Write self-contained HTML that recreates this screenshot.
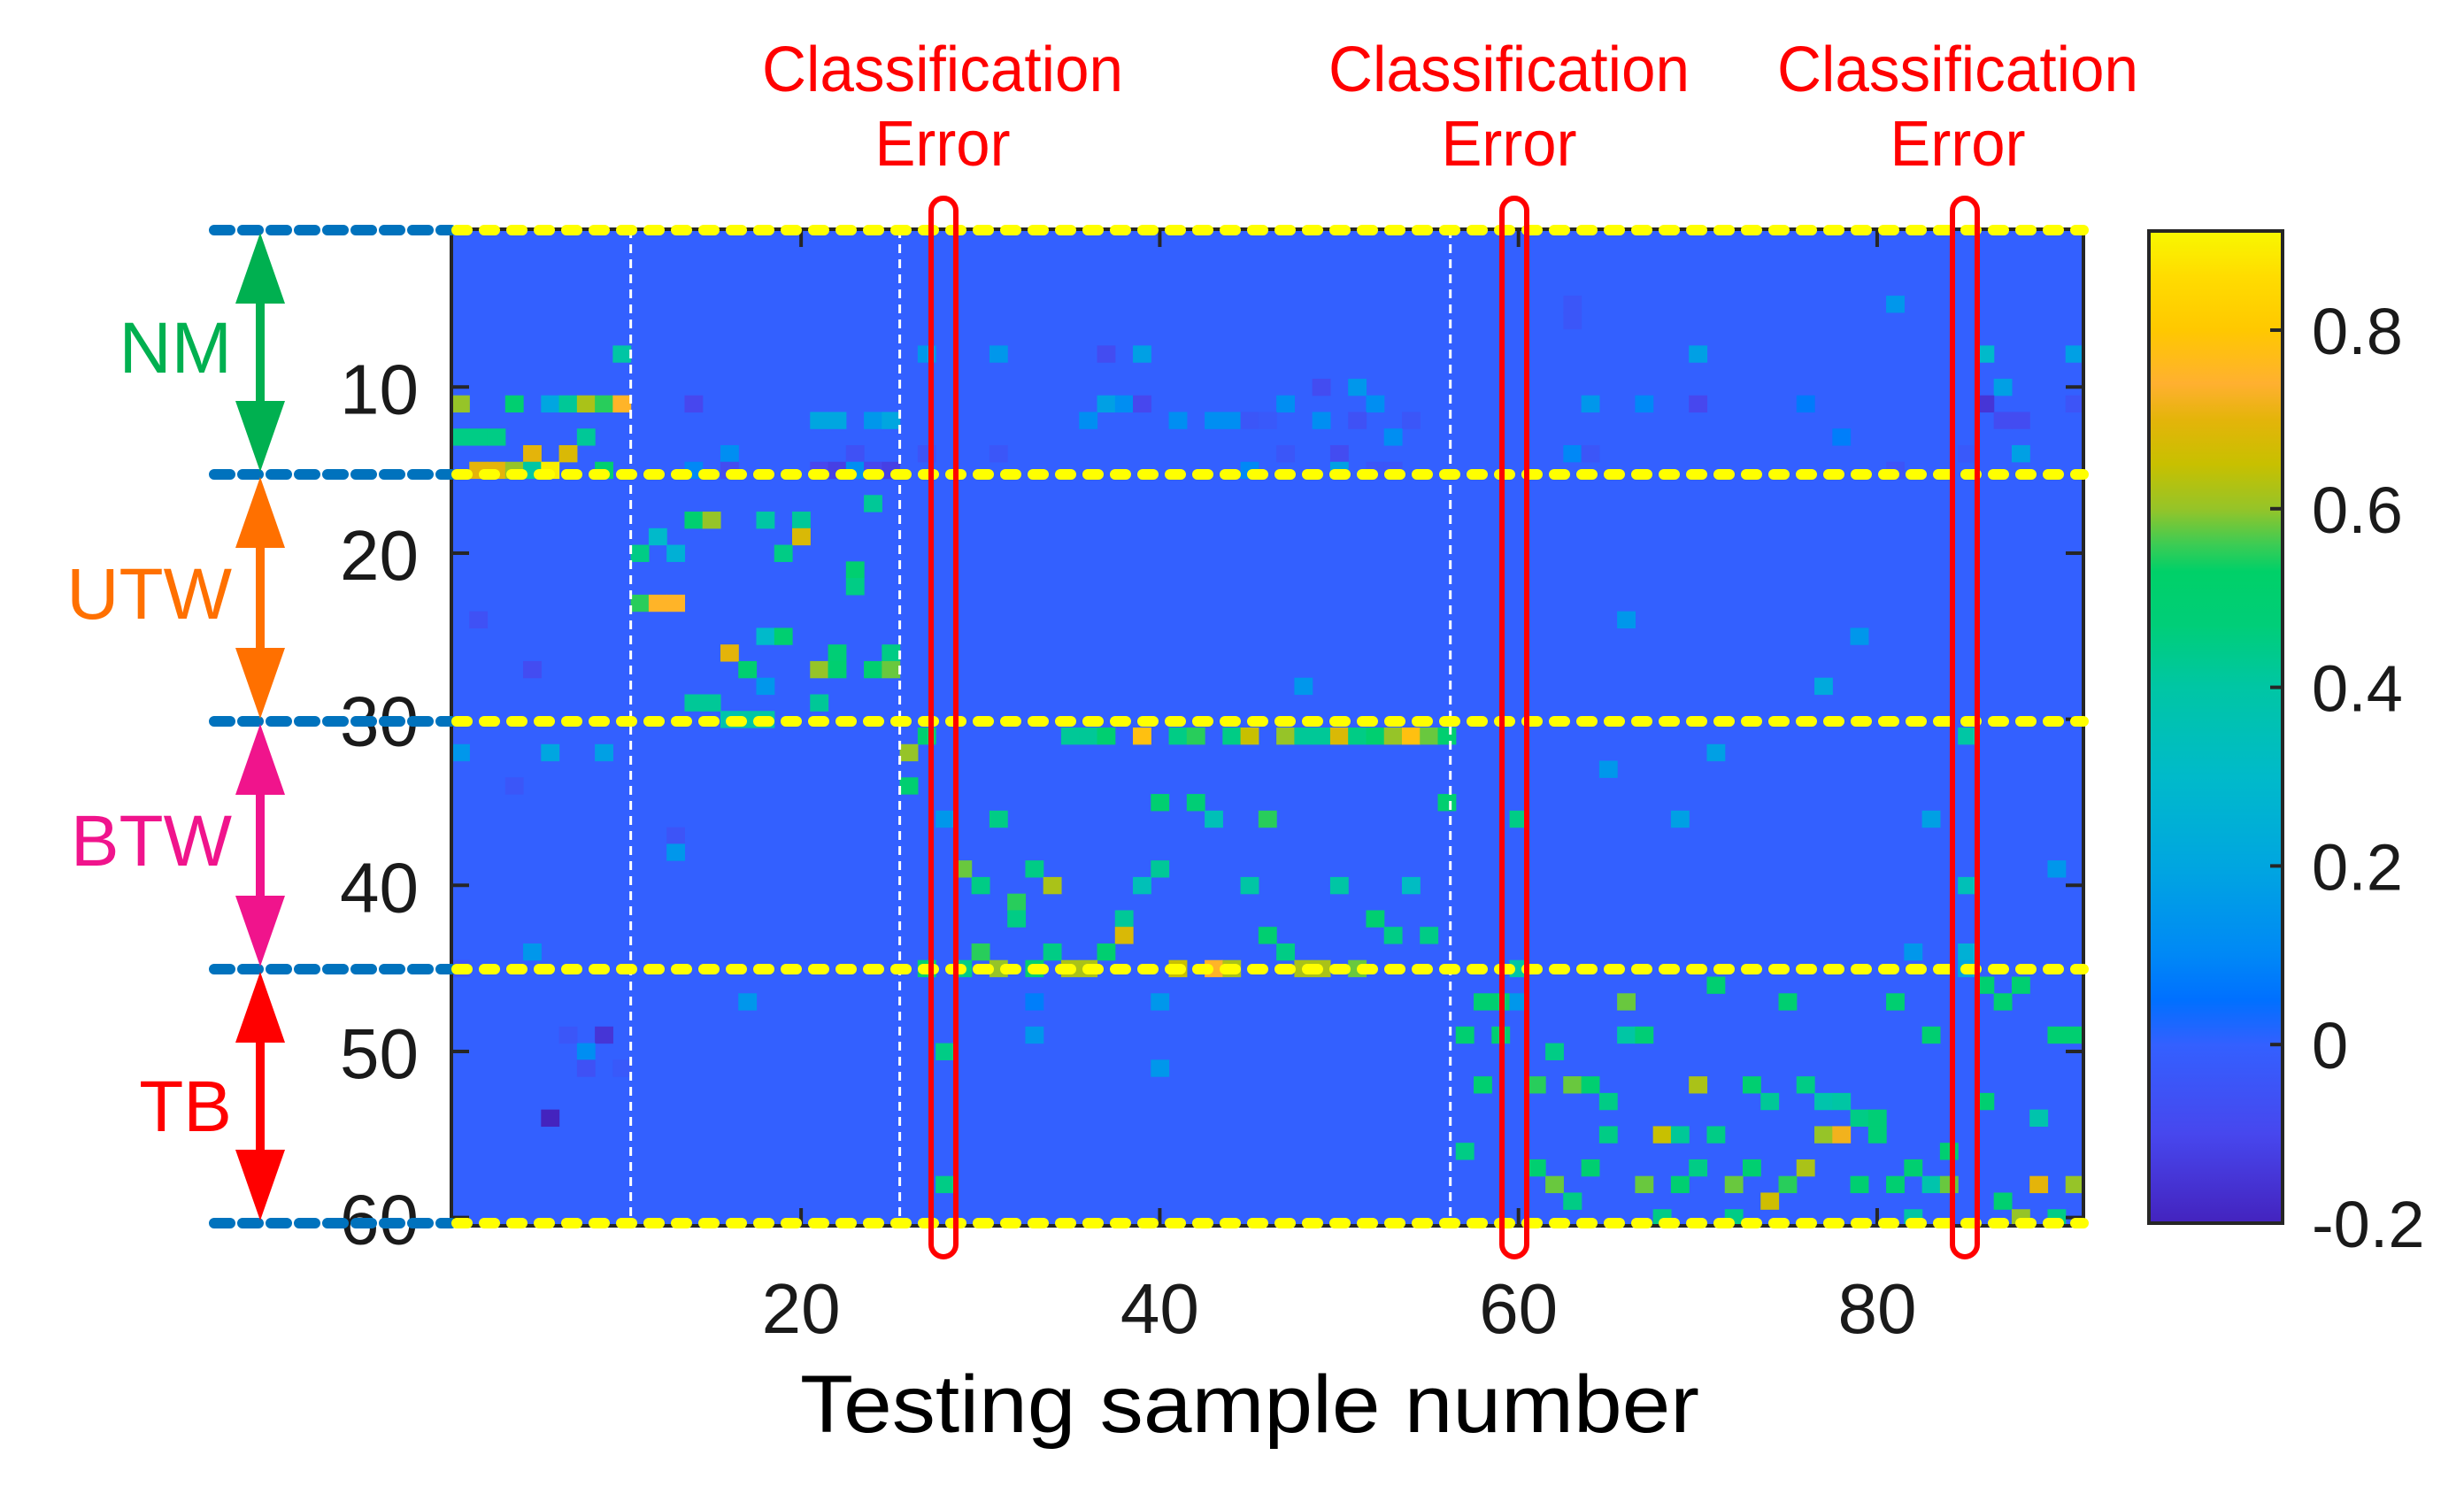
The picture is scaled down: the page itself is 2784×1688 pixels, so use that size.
<!DOCTYPE html>
<html><head><meta charset="utf-8"><style>
html,body{margin:0;padding:0;background:#fff;}
svg{display:block;font-family:"Liberation Sans",Arial,sans-serif;}
</style></head><body>
<svg id="chart" xmlns="http://www.w3.org/2000/svg" width="2784" height="1688" viewBox="0 0 2784 1688">
<rect x="0" y="0" width="2784" height="1688" fill="#fff"/>
<g id="cells"></g>
<g id="overlay"></g>
</svg>
<script>
// ---- data ----
const nCols = 91;
const nRows = 60;
const cellCol = [10,1,4,6,7,8,9,10,14,21,22,24,25,1,2,3,8,5,7,16,23,27,31,2,3,4,5,6,9,14,16,21,22,23,24,25,27,31,24,14,15,18,20,12,20,11,13,19,23,23,11,12,13,2,18,19,16,22,25,5,17,21,22,24,25,18,14,15,21,16,17,18,
27,1,6,9,26,4,26,28,31,13,13,29,33,30,34,32,32,5,30,34,1,27,29,31,33,17,33,7,9,33,8,28,8,10,6,28,
37,39,49,51,37,38,39,47,52,36,41,43,44,45,46,49,51,54,53,47,50,45,50,52,53,63,48,
35,36,37,39,41,42,44,45,47,48,49,50,51,52,53,54,55,56,40,42,56,43,46,60,40,39,45,50,54,38,52,38,46,53,55,37,47,35,36,41,43,44,48,49,51,60,40,58,59,60,57,59,62,40,58,61,63,57,61,62,63,
63,81,70,86,91,87,64,67,70,76,86,91,87,88,78,63,64,85,88,81,66,79,77,85,71,65,69,83,90,85,82,85,85,71,86,88,66,75,81,87,66,67,83,90,91,63,64,70,73,76,65,74,77,78,86,79,80,89,65,68,69,71,77,78,80,84,64,70,73,76,82,67,69,72,75,79,81,83,84,89,91,63,74,87,68,72,82,88,90];
const cellRow = [8,11,11,11,11,11,11,11,11,12,12,12,12,13,13,13,13,14,14,14,14,14,14,15,15,15,15,15,15,15,15,15,15,15,15,15,8,8,17,18,18,18,18,19,19,20,20,20,21,22,23,23,23,24,25,25,26,26,26,27,27,27,27,27,27,28,29,29,29,30,30,30,
31,32,32,32,32,34,34,36,36,37,38,39,39,40,40,41,42,44,44,44,45,45,45,45,45,47,47,49,49,49,50,50,51,51,54,58,
8,8,10,10,11,11,11,11,11,12,12,12,12,12,12,12,12,12,13,14,14,15,15,15,15,6,28,
31,31,31,31,31,31,31,31,31,31,31,31,31,31,31,31,31,31,35,35,35,36,36,36,39,40,40,40,40,42,42,43,43,43,43,44,44,45,45,45,45,45,45,45,45,45,47,47,47,47,49,49,50,51,52,52,52,56,57,58,59,
5,5,8,8,8,10,11,11,11,11,11,11,12,12,13,14,14,14,14,15,24,25,28,31,32,33,36,36,39,40,44,44,45,46,46,46,47,47,47,47,49,49,49,49,49,52,52,52,52,52,53,53,53,53,53,54,54,54,55,55,55,55,55,55,55,56,57,57,57,57,57,58,58,58,58,58,58,58,58,58,58,59,59,59,60,60,60,60,60];
const cellVal = [0.4,0.6,0.5,0.2,0.42,0.62,0.55,0.75,-0.1,0.2,0.2,0.15,0.2,0.45,0.45,0.45,0.42,0.7,0.68,0.12,-0.06,-0.05,-0.04,0.7,0.7,0.6,0.4,0.9,0.5,0.1,-0.08,-0.1,-0.12,0.12,-0.1,-0.12,0.15,0.15,0.42,0.5,0.6,0.4,0.42,0.3,0.68,0.45,0.25,0.45,0.5,0.45,0.55,0.75,0.75,-0.06,0.3,0.5,0.7,0.48,0.45,-0.08,0.5,0.6,0.5,0.5,0.58,0.15,0.42,0.42,0.42,0.38,0.4,0.4,
0.5,0.15,0.2,0.18,0.6,-0.04,0.5,0.15,0.45,-0.05,0.15,0.58,0.45,0.45,0.62,0.55,0.45,0.15,0.55,0.45,-0.05,0.5,0.45,0.6,0.5,0.15,0.08,-0.04,-0.15,0.15,0.12,0.45,-0.06,-0.03,-0.2,0.45,
-0.08,0.18,-0.08,0.15,0.18,0.12,-0.1,0.12,0.12,0.12,0.12,0.12,0.12,-0.04,-0.03,0.12,-0.06,-0.04,0.12,-0.04,-0.08,0.1,0.18,-0.04,-0.04,-0.04,0.15,
0.42,0.42,0.5,0.78,0.45,0.55,0.45,0.65,0.6,0.42,0.42,0.68,0.45,0.5,0.6,0.78,0.58,0.5,0.5,0.48,0.5,0.35,0.55,0.45,0.42,0.35,0.4,0.4,0.32,0.42,0.5,0.68,0.5,0.45,0.45,0.5,0.45,0.62,0.62,0.65,0.75,0.62,0.62,0.62,0.58,0.4,0.15,0.5,0.5,0.15,0.5,0.5,0.45,0.15,0.5,0.55,0.58,0.45,0.5,0.58,0.45,
-0.04,0.15,0.18,0.3,0.18,0.18,0.15,0.1,-0.1,0.07,-0.15,-0.05,-0.08,-0.08,0.08,0.1,-0.04,-0.03,0.18,-0.05,0.15,0.15,0.22,0.4,0.18,0.15,0.18,0.18,0.15,0.35,0.15,0.25,0.2,0.5,0.5,0.5,0.58,0.5,0.5,0.5,0.4,0.48,0.5,0.5,0.5,0.58,0.5,0.62,0.5,0.45,0.45,0.42,0.38,0.4,0.5,0.45,0.48,0.38,0.45,0.65,0.42,0.45,0.6,0.72,0.48,0.5,0.5,0.45,0.5,0.62,0.5,0.58,0.5,0.58,0.55,0.5,0.5,0.38,0.58,0.7,0.6,0.45,0.66,0.5,0.45,0.45,0.4,0.6,0.45];
const xTickVals = [20,40,60,80];
const yTickVals = [10,20,30,40,50,60];
const cbTickVals = [-0.2,0,0.2,0.4,0.6,0.8];
const cbTickLabels = ["-0.2","0","0.2","0.4","0.6","0.8"];
const cMin = -0.2, cMax = 0.911;
const groupNames = ["NM","UTW","BTW","TB"];

// ---- layout ----
const PX0=510, PX1=2354, PY0=259, PY1=1385;
const CB = {x0:2428,x1:2579,y0:261,y1:1382};
const cw=(PX1-PX0)/nCols, rh=(PY1-PY0)/nRows;
const xL = c => PX0+(c-1)*cw;
const xC = c => PX0+(c-0.5)*cw;
const yT = r => PY0+(r-1)*rh;
const yC = r => PY0+(r-0.5)*rh;
const cbY = v => CB.y1-(v-cMin)/(cMax-cMin)*(CB.y1-CB.y0);

const stops=[[-0.2,[68,35,190]],[-0.1,[71,71,238]],[0,[51,96,255]],[0.05,[0,112,255]],[0.1,[0,136,246]],[0.2,[0,166,224]],[0.3,[0,186,202]],[0.4,[0,198,164]],[0.47,[0,206,120]],[0.53,[0,208,104]],[0.56,[60,204,84]],[0.6,[150,196,40]],[0.65,[200,192,0]],[0.7,[228,180,10]],[0.74,[255,176,48]],[0.8,[255,200,0]],[0.86,[255,220,0]],[0.92,[248,248,0]]];
function cmap(v){
  if(v<=stops[0][0])return `rgb(${stops[0][1]})`;
  for(let i=1;i<stops.length;i++){
    if(v<=stops[i][0]){const a=stops[i-1],b=stops[i];const t=(v-a[0])/(b[0]-a[0]);
      const c=a[1].map((x,k)=>Math.round(x+(b[1][k]-x)*t));return `rgb(${c.join(',')})`;}
  }
  return `rgb(${stops[stops.length-1][1]})`;
}
const NS="http://www.w3.org/2000/svg";
function mk(tag,attrs,parent){const e=document.createElementNS(NS,tag);for(const k in attrs)e.setAttribute(k,attrs[k]);(parent||document.getElementById('overlay')).appendChild(e);return e;}

const cellsG=document.getElementById('cells');
const bg=mk('rect',{x:PX0,y:PY0,width:PX1-PX0,height:PY1-PY0,fill:cmap(0)},cellsG);


for(let i=0;i<cellVal.length;i++){
  const r=mk('rect',{x:xL(cellCol[i]).toFixed(2),y:yT(cellRow[i]).toFixed(2),width:(cw+0.6).toFixed(2),height:(rh+0.6).toFixed(2),fill:cmap(cellVal[i])},cellsG);
  
  
}
[10,25,55.7].forEach(c=>{const l=mk('line',{x1:PX0+c*cw,x2:PX0+c*cw,y1:PY0,y2:PY1,stroke:'#fff','stroke-width':3,'stroke-dasharray':'10 7'});

});
const fr=mk('rect',{x:PX0,y:PY0,width:PX1-PX0,height:PY1-PY0,fill:'none',stroke:'#262626','stroke-width':4});


xTickVals.forEach(v=>{
  mk('line',{x1:xC(v),x2:xC(v),y1:PY1,y2:PY1-20,stroke:'#262626','stroke-width':4});
  mk('line',{x1:xC(v),x2:xC(v),y1:PY0,y2:PY0+20,stroke:'#262626','stroke-width':4});
  const t=mk('text',{x:xC(v),y:1506,'font-size':80,'text-anchor':'middle',fill:'#1a1a1a'});t.textContent=v;
  
  
});
yTickVals.forEach(v=>{
  mk('line',{x1:PX0,x2:PX0+20,y1:yC(v),y2:yC(v),stroke:'#262626','stroke-width':4});
  mk('line',{x1:PX1,x2:PX1-20,y1:yC(v),y2:yC(v),stroke:'#262626','stroke-width':4});
  const t=mk('text',{x:473,y:yC(v)+30,'font-size':80,'text-anchor':'end',fill:'#1a1a1a'});t.textContent=v;
  
  
});
const bounds=[260,536,815,1095,1382];
bounds.forEach(y=>{
  const b=mk('line',{x1:242,x2:PX0,y1:y,y2:y,stroke:'#0072BD','stroke-width':12,'stroke-linecap':'round','stroke-dasharray':'18 14'});
  
  
  const yl=mk('line',{x1:PX0+6,x2:PX1,y1:y,y2:y,stroke:'#FFFF00','stroke-width':12,'stroke-linecap':'round','stroke-dasharray':'12 19'});
  
  
});
const gcol=['#00B050','#FF7000','#F0148C','#FF0000'];
const lblY=[421,699,978,1278];
for(let i=0;i<4;i++){
  const y0=bounds[i]+3,y1=bounds[i+1]-3,x=294,hw=28,hh=80;
  const a=mk('path',{d:`M${x} ${y0} L${x+hw} ${y0+hh} L${x+5} ${y0+hh} L${x+5} ${y1-hh} L${x+hw} ${y1-hh} L${x} ${y1} L${x-hw} ${y1-hh} L${x-5} ${y1-hh} L${x-5} ${y0+hh} L${x-hw} ${y0+hh} Z`,fill:gcol[i]});
  
  
  const t=mk('text',{x:262,y:lblY[i],'font-size':82,'text-anchor':'end',fill:gcol[i]});t.textContent=groupNames[i];
  
  
}
const errCx=[1065,1705,2212];
const boxX=[1066,1711,2220];
for(let i=0;i<3;i++){
  const r=mk('rect',{x:boxX[i]-14,y:224,width:28,height:1196,rx:14,ry:14,fill:'none',stroke:'#FF0000','stroke-width':6});
  
  
  const t1=mk('text',{x:errCx[i],y:103,'font-size':72,'text-anchor':'middle',fill:'#FF0000',textLength:408,lengthAdjust:'spacingAndGlyphs'});t1.textContent='Classification';
  
  
  const t2=mk('text',{x:errCx[i],y:187,'font-size':72,'text-anchor':'middle',fill:'#FF0000',textLength:153,lengthAdjust:'spacingAndGlyphs'});t2.textContent='Error';
  
  
}
const xt=mk('text',{x:1412,y:1618,'font-size':92,'text-anchor':'middle',fill:'#000',textLength:1016,lengthAdjust:'spacingAndGlyphs'});xt.textContent='Testing sample number';


const defs=mk('defs',{});
const lg=mk('linearGradient',{id:'cbg',x1:0,y1:1,x2:0,y2:0},defs);
stops.forEach(s=>{const o=Math.max(0,Math.min(1,(s[0]-cMin)/(cMax-cMin)));mk('stop',{offset:o,'stop-color':`rgb(${s[1]})`},lg);});
const cb=mk('rect',{x:CB.x0,y:CB.y0,width:CB.x1-CB.x0,height:CB.y1-CB.y0,fill:'url(#cbg)',stroke:'#262626','stroke-width':4});


cbTickVals.forEach((v,i)=>{
  mk('line',{x1:CB.x1-14,x2:CB.x1,y1:cbY(v),y2:cbY(v),stroke:'#262626','stroke-width':4});
  const t=mk('text',{x:2612,y:cbY(v)+27,'font-size':74,fill:'#1a1a1a'});t.textContent=cbTickLabels[i];
  
  
});
</script>
</body></html>
